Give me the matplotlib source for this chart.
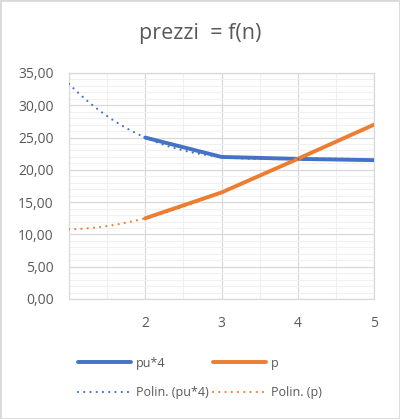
import matplotlib
matplotlib.use("Agg")
from matplotlib import pyplot as plt
from matplotlib.patches import Rectangle
import numpy as np

plt.rcParams['font.family'] = ['Open Sans', 'DejaVu Sans']

n = [2, 3, 4, 5]
pu4 = [25.0, 22.0, 21.7, 21.5]
p = [12.5, 16.5, 21.7, 27.0]
trend_from = 1

blue = '#4472C4'
orange = '#ED7D31'
txt = '#595959'

fig = plt.figure(figsize=(4.0, 4.19), dpi=100)
ax = fig.add_axes([0.1725, 0.2864, 0.935 - 0.1725, 0.8258 - 0.2864])

# polynomial trendlines (order 3), back-forecast to x=1
xs = np.linspace(trend_from, n[-1], 300)
tb = np.polyval(np.polyfit(n, pu4, 3), xs)
to = np.polyval(np.polyfit(n, p, 3), xs)

dots = (0, (0.01, 2.8))
l1, = ax.plot(n, pu4, c=blue, lw=2.8, solid_capstyle='round', zorder=3)
l2, = ax.plot(n, p, c=orange, lw=2.8, solid_capstyle='round', zorder=3)
l3, = ax.plot(xs, tb, c=blue, lw=1.6, ls=dots, dash_capstyle='round', zorder=4)
l4, = ax.plot(xs, to, c=orange, lw=1.6, ls=dots, dash_capstyle='round', zorder=4)

ax.set_xlim(1, 5)
ax.set_ylim(0, 35)
ax.set_xticks([2, 3, 4, 5])
ax.set_xticks(np.arange(1, 5.01, 0.5), minor=True)
ax.set_yticks(np.arange(0, 35.1, 5))
ax.set_yticks(np.arange(0, 35.1, 1), minor=True)
ax.set_yticklabels([f"{v:.2f}".replace('.', ',') for v in np.arange(0, 35.1, 5)])
ax.grid(which='minor', color='#f0f0f0', lw=0.8, zorder=0)
ax.grid(which='major', color='#d9d9d9', lw=0.9, zorder=1)
ax.set_axisbelow(True)
ax.tick_params(which='both', length=0, colors=txt, labelsize=10)
ax.tick_params(axis='y', pad=11)
ax.tick_params(axis='x', pad=12)
for s in ax.spines.values():
    s.set_color('#d9d9d9')
    s.set_linewidth(0.9)

fig.text(0.5, 1 - 33 / 419, 'prezzi  = f(n)', ha='center', va='center',
         fontsize=15.5, color=txt)

leg = fig.legend([l1, l3, l2, l4], ['pu*4', 'Polin. (pu*4)', 'p', 'Polin. (p)'],
                 ncol=2, loc='center', bbox_to_anchor=(0.5, 1 - 378 / 419),
                 frameon=False, fontsize=9, handlelength=4.2, handletextpad=0.4,
                 columnspacing=0.4, labelspacing=1.35, labelcolor=txt)

fig.patches.append(Rectangle((0, 0), 1, 1, transform=fig.transFigure,
                             fill=False, edgecolor='#d9d9d9', lw=2))

fig.savefig('out.png', dpi=100)
